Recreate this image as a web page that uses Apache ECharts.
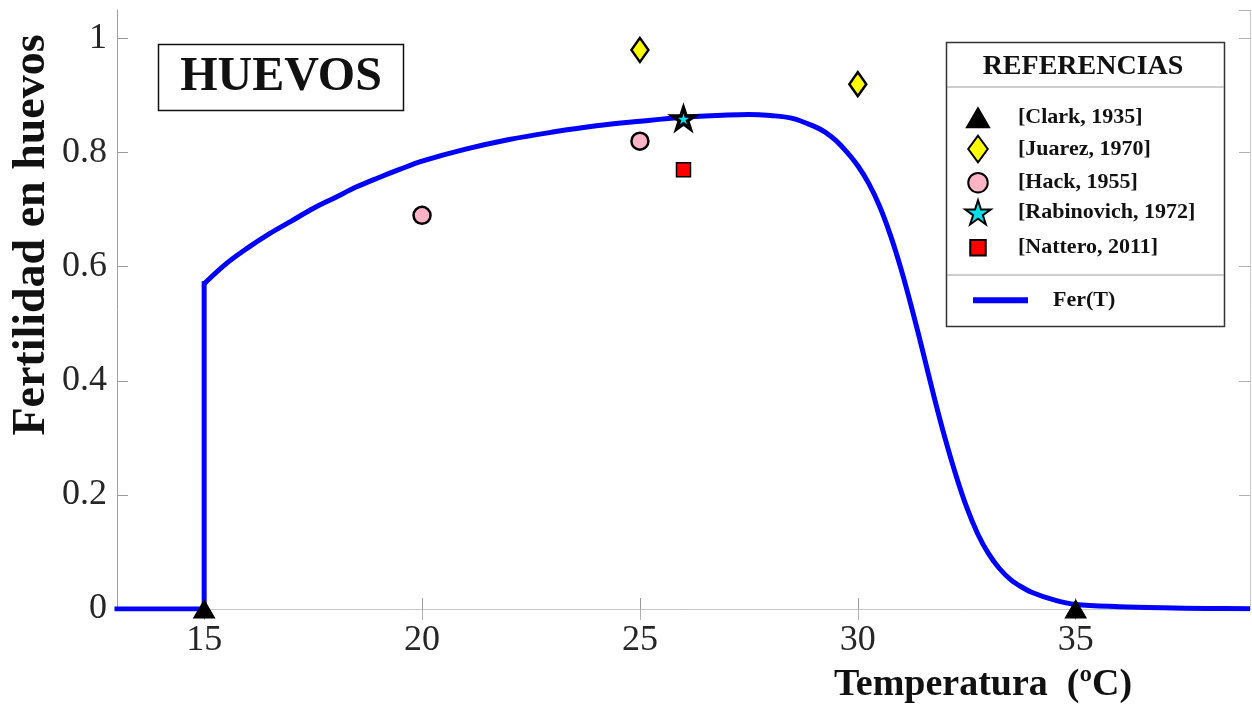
<!DOCTYPE html>
<html>
<head>
<meta charset="utf-8">
<script src="https://cdn.jsdelivr.net/npm/echarts@6/dist/echarts.min.js"></script>
<style>
  html, body { margin: 0; padding: 0; background: #fff; }
  #chart { width: 1252px; height: 706px; }
</style>
</head>
<body>
<div id="chart"></div>
<script>
// Fertility curve Fer(T): temperature (ºC) and fraction of fertile eggs.
// Below 15 ºC the value is zero, with a jump at 15 ºC.
const stepT = [13, 15, 15];
const stepF = [0, 0, 0.57];
const tempC = [15, 15.5, 16, 16.5, 17, 17.5, 18, 18.5, 19, 19.5, 20, 21, 22, 23, 24, 25, 26, 27, 27.5, 28, 28.5,
  29, 29.25, 29.5, 29.75, 30, 30.25, 30.5, 30.75, 31, 31.25, 31.5, 31.75, 32, 32.25, 32.5, 32.75, 33, 33.25, 33.5, 33.75, 34, 34.5, 35, 36, 37, 38, 39];
const ferT = [0.57, 0.605, 0.633, 0.658, 0.680, 0.702, 0.721, 0.740, 0.756, 0.771, 0.785, 0.806, 0.823, 0.836, 0.847, 0.855, 0.862, 0.866, 0.867, 0.865, 0.860,
  0.846, 0.836, 0.821, 0.801, 0.777, 0.746, 0.706, 0.655, 0.594, 0.524, 0.449, 0.372, 0.300, 0.235, 0.178, 0.132, 0.097, 0.071, 0.052, 0.039, 0.029, 0.016, 0.008, 0.004, 0.002, 0.001, 0.0005];

// Reference measurements
const clarkT = [15, 35];        const clarkF = [0, 0];
const juarezT = [25, 30];       const juarezF = [0.98, 0.92];
const hackT = [20, 25];         const hackF = [0.69, 0.82];
const rabinovichT = [26];       const rabinovichF = [0.86];
const natteroT = [26];          const natteroF = [0.77];

const refNames = ['[Clark, 1935]', '[Juarez, 1970]', '[Hack, 1955]', '[Rabinovich, 1972]', '[Nattero, 2011]'];
const curveName = 'Fer(T)';

const xTicks = [15, 20, 25, 30, 35];

const pairs = (xs, ys) => xs.map((x, i) => [x, ys[i]]);

const SERIF = '"Liberation Serif", "Times New Roman", serif';
const STAR = 'path://M50,0 L61.2,34.5 L97.6,34.5 L68.2,55.9 L79.4,90.5 L50,69.1 L20.6,90.5 L31.8,55.9 L2.4,34.5 L38.8,34.5 Z';
const BLUE = '#0000ff';

// symbol look per reference series
const refStyles = [
  { symbol: 'triangle', size: [21, 18], fill: '#000000', bw: 1 },
  { symbol: 'diamond', size: [17, 24], fill: '#ffff00', bw: 2.5 },
  { symbol: 'circle', size: [17, 17], fill: '#ffb3c6', bw: 2.5 },
  { symbol: STAR, size: [22, 22], fill: '#00e0e8', bw: 3.5 },
  { symbol: 'rect', size: [14, 14], fill: '#ff0000', bw: 1.5 }
];
const refData = [
  pairs(clarkT, clarkF), pairs(juarezT, juarezF), pairs(hackT, hackF),
  pairs(rabinovichT, rabinovichF), pairs(natteroT, natteroF)
];

// legend rows: icon centre x, row centre y, text start x; legend text line height
const legIconX = 977;
const legRowY = [116.7, 148, 181.7, 212, 246.7];
const legTextX = 1017;
const legTextH = 20;

const scatterSeries = refNames.map((name, i) => ({
  name: name,
  type: 'scatter',
  data: refData[i],
  symbol: refStyles[i].symbol,
  symbolSize: refStyles[i].size,
  symbolKeepAspect: true,
  z: 5,
  itemStyle: { color: refStyles[i].fill, borderColor: '#000', borderWidth: refStyles[i].bw, opacity: 1 }
}));

const refLegends = refNames.map((name, i) => {
  const w = refStyles[i].size[0] + refStyles[i].bw;
  const h = refStyles[i].size[1] + refStyles[i].bw;
  return {
    data: [name],
    orient: 'vertical',
    left: legIconX - w / 2,
    top: legRowY[i] - Math.max(h, legTextH) / 2,
    padding: 0,
    itemWidth: w,
    itemHeight: h,
    selectedMode: false,
    textStyle: {
      fontFamily: SERIF, fontWeight: 'bold', fontSize: 22, color: '#111',
      padding: [0, 0, 0, legTextX - (legIconX + w / 2 + 5)]
    }
  };
});

const curveLegend = {
  data: [{ name: curveName, icon: 'rect' }],
  left: 973,
  top: 299.3 - legTextH / 2,
  padding: 0,
  itemWidth: 55,
  itemHeight: 6,
  selectedMode: false,
  itemStyle: { color: BLUE, borderWidth: 0 },
  textStyle: {
    fontFamily: SERIF, fontWeight: 'bold', fontSize: 22, color: '#111',
    padding: [0, 0, 0, 1053 - (973 + 55 + 5)]
  }
};

const tickLabel = { fontFamily: SERIF, fontSize: 36, color: '#262626' };

const lineCommon = {
  name: curveName,
  type: 'line',
  symbol: 'none',
  showSymbol: false,
  clip: true,
  z: 3,
  lineStyle: { color: BLUE, width: 5, join: 'miter', cap: 'square' },
  itemStyle: { color: BLUE }
};

const option = {
  backgroundColor: '#ffffff',
  animation: false,
  grid: { left: 117, top: 10, right: 2, bottom: 97, containLabel: false },
  xAxis: [
    {
      type: 'value', position: 'bottom', min: 13, max: 39,
      axisLine: { show: true, lineStyle: { color: '#606060', width: 1 } },
      axisTick: { show: true, inside: true, length: 11, customValues: xTicks, lineStyle: { color: '#9a9a9a' } },
      axisLabel: Object.assign({ margin: 14, customValues: xTicks }, tickLabel),
      splitLine: { show: false }
    },
    {
      type: 'value', position: 'top', min: 13, max: 39,
      axisLine: { show: true, lineStyle: { color: '#c8c8c8', width: 1 } },
      axisTick: { show: true, inside: true, length: 11, customValues: xTicks, lineStyle: { color: '#b0b0b0' } },
      axisLabel: { show: false },
      splitLine: { show: false }
    }
  ],
  yAxis: [
    {
      type: 'value', position: 'left', min: 0, max: 1.05, interval: 0.2,
      axisLine: { show: true, lineStyle: { color: '#a0a0a0', width: 1 } },
      axisTick: { show: true, inside: true, length: 11, lineStyle: { color: '#9a9a9a' } },
      axisLabel: Object.assign({ margin: 10, showMaxLabel: false }, tickLabel),
      splitLine: { show: false }
    },
    {
      type: 'value', position: 'right', min: 0, max: 1.05, interval: 0.2,
      axisLine: { show: true, lineStyle: { color: '#c8c8c8', width: 1 } },
      axisTick: { show: true, inside: true, length: 11, lineStyle: { color: '#b0b0b0' } },
      axisLabel: { show: false },
      splitLine: { show: false }
    }
  ],
  legend: refLegends.concat([curveLegend]),
  series: [
    Object.assign({}, lineCommon, { data: pairs(stepT, stepF), smooth: false }),
    Object.assign({}, lineCommon, { data: pairs(tempC, ferT), smooth: 0.35,
      lineStyle: { color: BLUE, width: 5, join: 'round', cap: 'butt' } })
  ].concat(scatterSeries),
  graphic: [
    // title box
    {
      type: 'rect', z: 10,
      shape: { x: 158.5, y: 44.5, width: 245, height: 66 },
      style: { fill: '#fff', stroke: '#111', lineWidth: 1.5 }
    },
    {
      type: 'text', z: 11, x: 281, y: 78,
      style: { text: 'HUEVOS', font: 'bold 48px ' + SERIF, fill: '#111', align: 'center', verticalAlign: 'middle' }
    },
    // references box
    {
      type: 'rect', z: 1,
      shape: { x: 946.5, y: 42.5, width: 278, height: 284 },
      style: { fill: '#fff', stroke: '#333', lineWidth: 1.5 }
    },
    {
      type: 'line', z: 2,
      shape: { x1: 947, y1: 87, x2: 1224, y2: 87 },
      style: { stroke: '#9a9a9a', lineWidth: 1 }
    },
    {
      type: 'line', z: 2,
      shape: { x1: 947, y1: 275, x2: 1224, y2: 275 },
      style: { stroke: '#9a9a9a', lineWidth: 1 }
    },
    {
      type: 'text', z: 2, x: 1083, y: 67,
      style: { text: 'REFERENCIAS', font: 'bold 28px ' + SERIF, fill: '#111', align: 'center', verticalAlign: 'middle' }
    },
    // axis titles
    {
      type: 'text', z: 2, x: 983, y: 685,
      style: { text: 'Temperatura  (ºC)', font: 'bold 38px ' + SERIF, fill: '#111', align: 'center', verticalAlign: 'middle' }
    },
    {
      type: 'text', z: 2, x: 32, y: 235, rotation: Math.PI / 2,
      style: { text: 'Fertilidad en huevos', font: 'bold 46px ' + SERIF, fill: '#111', align: 'center', verticalAlign: 'middle' }
    }
  ]
};

const chart = echarts.init(document.getElementById('chart'), null, { renderer: 'canvas' });
chart.setOption(option);
</script>
</body>
</html>
